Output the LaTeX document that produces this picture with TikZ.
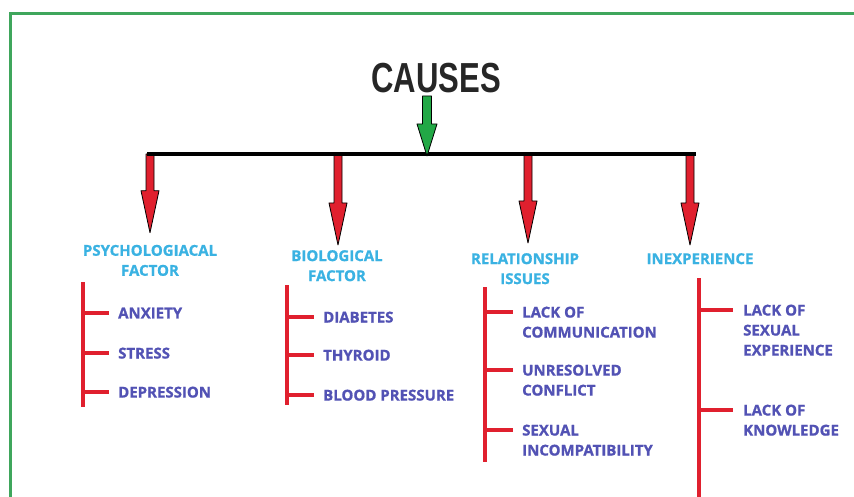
\documentclass[tikz,border=0pt]{standalone}
\usepackage{fontspec}
\usetikzlibrary{calc}
\newfontfamily\boxfont{Open Sans}[BoldFeatures={FakeBold=1}]
\newfontfamily\headfont{Liberation Sans}[FakeStretch=0.74]
\definecolor{catblue}{HTML}{3AB2E2}
\definecolor{itemblue}{HTML}{5252B4}
\definecolor{linered}{HTML}{E0202E}
\definecolor{framegreen}{HTML}{3FA65C}
\definecolor{arrowgreen}{HTML}{22A846}
% fat outlined arrow: from, to, fill, shaft half width, head half width, head length
\newcommand{\fatarrow}[6]{%
  \filldraw[fill=#3, draw=black, line width=0.8pt, line join=round]
    ($(#1)+(-#4,0)$) -- ($(#2)+(-#4,-#6)$) -- ($(#2)+(-#5,-#6)$) -- (#2)
    -- ($(#2)+(#5,-#6)$) -- ($(#2)+(#4,-#6)$) -- ($(#1)+(#4,0)$) -- cycle;}
\tikzset{
  cat/.style={font=\boxfont\bfseries\fontsize{15}{20}\selectfont, text=catblue, align=center, inner sep=0pt, anchor=north},
  item/.style={font=\boxfont\bfseries\fontsize{15}{20}\selectfont, text=itemblue, align=left, inner sep=0pt, anchor=north west},
  bracket/.style={linered, line width=3.2pt},
}
\begin{document}
\begin{tikzpicture}[x=1pt, y=-1pt]
    \useasboundingbox (0,0) rectangle (854,497);
    \draw[framegreen, line width=3pt] (10,497) -- (10,14) -- (854,14);

    \node[font=\headfont\bfseries\fontsize{42}{42}\selectfont, text=black!85] (causes) at (436,78) {CAUSES};

    % categories
    \node[cat] (c1) at (150,244.7) {PSYCHOLOGIACAL\\FACTOR};
    \node[cat] (c2) at (337,250) {BIOLOGICAL\\FACTOR};
    \node[cat] (c3) at (525,253) {RELATIONSHIP\\ISSUES};
    \node[cat] (c4) at (700,253) {INEXPERIENCE};

    \coordinate (bl) at (147,154);
    \coordinate (br) at (696,154);
    \foreach \i/\x/\up in {1/150/12, 2/338/5, 3/528/10, 4/690/8} {
        \coordinate (top\i) at (\x,154);
        \coordinate (tip\i) at ($(c\i.north -| top\i)+(0,-\up)$);
        \fatarrow{top\i}{tip\i}{linered}{4}{9}{42}
    }
    \draw[line width=3.5pt] (bl) -- (br);

    \coordinate (gtop) at (427,96);
    \coordinate (gtip) at (427,156);
    \fatarrow{gtop}{gtip}{arrowgreen}{4.5}{10}{32}

    % brackets
    \coordinate (b1) at (83,282);  \coordinate (e1) at (83,407);
    \coordinate (b2) at (287,285); \coordinate (e2) at (287,405);
    \coordinate (b3) at (485,287); \coordinate (e3) at (485,462);
    \coordinate (b4) at (699,278); \coordinate (e4) at (699,497);
    \foreach \i in {1,...,4} \draw[bracket] (b\i) -- (e\i);

    \foreach \n/\y/\t in {1/313/ANXIETY, 2/353/STRESS, 3/392/DEPRESSION} {
        \node[item] (p\n) at (118,\y-5.5) {\t};
        \coordinate (pt\n) at ([xshift=-9pt,yshift=-5.5pt]p\n.north west);
        \draw[bracket] (b1 |- pt\n) -- (pt\n);
    }
    \foreach \n/\y/\t in {1/317/DIABETES, 2/355/THYROID, 3/395/BLOOD PRESSURE} {
        \node[item] (q\n) at (323,\y-5.5) {\t};
        \coordinate (qt\n) at ([xshift=-9pt,yshift=-5.5pt]q\n.north west);
        \draw[bracket] (b2 |- qt\n) -- (qt\n);
    }
    \foreach \n/\y/\t in {1/312/{LACK OF\\COMMUNICATION}, 2/370/{UNRESOLVED\\CONFLICT}, 3/430/{SEXUAL\\INCOMPATIBILITY}} {
        \node[item] (r\n) at (522,\y-5.5) {\t};
        \coordinate (rt\n) at ([xshift=-9pt,yshift=-5.5pt]r\n.north west);
        \draw[bracket] (b3 |- rt\n) -- (rt\n);
    }
    \foreach \n/\y/\t in {1/310/{LACK OF\\SEXUAL\\EXPERIENCE}, 2/410/{LACK OF\\KNOWLEDGE}} {
        \node[item] (s\n) at (743,\y-5.5) {\t};
        \coordinate (st\n) at ([xshift=-10pt,yshift=-5.5pt]s\n.north west);
        \draw[bracket] (b4 |- st\n) -- (st\n);
    }
\end{tikzpicture}
\end{document}
